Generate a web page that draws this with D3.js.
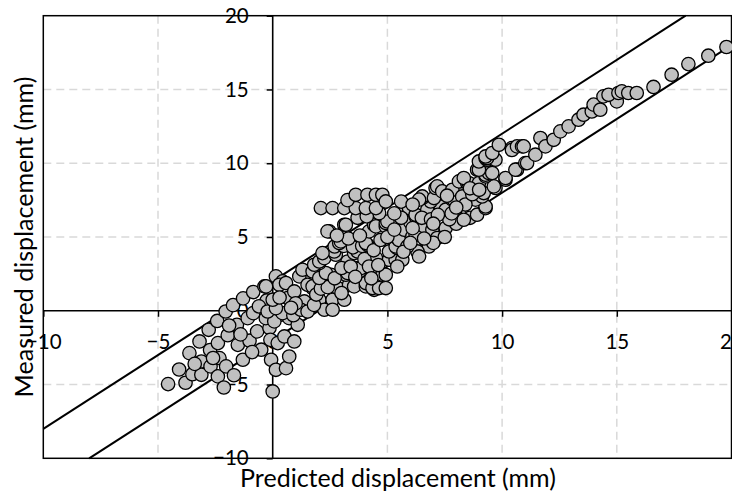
<!DOCTYPE html>
<html>
<head>
<meta charset="utf-8">
<script src="https://cdn.jsdelivr.net/npm/d3@7"></script>
<style>
  html, body { margin: 0; padding: 0; background: #fff; }
  svg { display: block; }
  text { font-family: Lato, "Open Sans", "DejaVu Sans", sans-serif; fill: #000; }
</style>
</head>
<body>
<svg id="chart" width="732" height="494"></svg>
<script>
// ---- data ----
const xTicks = [-10, -5, 0, 5, 10, 15, 20];
const yTicks = [-10, -5, 0, 5, 10, 15, 20];
const xTitle = "Predicted displacement (mm)";
const yTitle = "Measured displacement (mm)";
const bandOffsets = [2, -2];   // lines y = x + b

const tailPoints = [
  [-4.56,-4.97],[-4.08,-3.98],[-3.8,-4.88],[-3.63,-2.87],[-3.5,-4.3],[-3.19,-2.08],[-3.11,-3.44],[-3.11,-4.34],
  [-2.79,-1.29],[-2.73,-2.66],[-2.71,-3.77],[-2.42,-0.69],[-2.39,-2.19],[-2.39,-4.45],[-2.32,-3.21],[-2.13,-5.2],
  [-2.05,-0.05],[-2.03,-3.77],[-1.96,-1.66],[-1.73,0.38],[-1.69,-4.37],[-1.56,-0.95],[-1.52,-2.31],[-1.3,-3.32],
  [-1.29,0.84],[-1.09,-0.5],[-1.01,-2.03],[-0.85,1.27],[-0.85,-0.16],[-0.68,-1.4],[-0.5,-2.64],[-0.36,1.65],
  [-0.26,0.7],[-0.14,-1.17],[-0.1,-1.97],[-0.07,-3.32],[-0.6,0.3],[-0.3,-0.5],[-1.9,-1.0],[-1.4,-1.6],
  [-0.9,-2.8],[-2.6,-3.2],[-3.4,-3.6]
];
const columnPoints = [
  [0,-5.47],[0.14,-4.0],[0.58,-3.89],[0.72,-3.1],[0.22,-2.19],[0.51,-1.74],[0.94,-2.08],[0.36,-0.27],
  [0.07,-0.72],[0.72,-0.5],[1.09,-0.95],[0.43,-0.16],[-0.22,-0.05],[0.14,0.18],[0.9,-0.3]
];
const originPoints = [
  [0.14,2.33],[0.43,1.99],[0.29,1.76],[0.58,1.88],[-0.29,1.65],[0,0.75],[0.65,0.86],[0.94,1.31],[1.38,0.63],
  [1.23,0.07],[1.52,-0.05],[1.74,1.54],[1.52,2.22],[1.16,2.33],[1.3,2.78],[1.74,2.66],[1.52,1.76],[1.74,1.65],
  [2.03,0.75],[2.61,0.75],[3.12,0.75],[2.25,0.07],[2.61,0.07],[2.83,1.54],[3.33,1.76],[3.55,1.65],[4.06,1.65],
  [4.42,1.42],[4.06,1.88],[4.35,1.54],[4.64,1.54],[4.93,1.54],[0.3,0.9],[1.0,0.5],[0.8,0.2],[1.8,0.4],
  [1.9,1.1],[2.1,1.5],[2.4,1.6],[3.0,1.2]
];
const lowBandPoints = [
  [2.03,2.22],[2.54,2.44],[2.32,2.56],[3.19,2.44],[3.26,2.56],[3.77,2.66],[3.62,2.89],[3.84,2.89],[4.78,2.44],
  [4.93,2.44],[2.03,3.23],[1.81,3.12],[2.03,3.34],[2.25,3.57],[3.26,3.34],[4.5,3.57],[5.07,3.46],[5.36,3.46],
  [5.65,3.46],[5.43,3.0],[2.75,3.8],[2.68,4.02],[3.55,3.91],[3.7,4.02],[2.17,3.91],[5.07,4.02],[5.43,4.25],
  [5.36,4.36],[2.7,4.36],[3.1,4.4],[3.5,4.3],[3.9,4.4],[4.13,4.47],[4.06,4.59],[2.9,4.59],[2.97,4.7],[5.29,5.04],
  [4.2,5.38],[2.47,5.38],[2.39,5.38],[3.12,5.83],[3.19,5.83],[4.42,5.83],[4.5,5.72],[4.93,5.72],[4.93,5.95],
  [5.0,6.05],[4.64,6.62],[5.5,4.8],[2.7,2.2],[3.0,2.9],[3.4,3.0],[3.6,2.3],[4.0,3.5],[4.2,3.0],[4.3,2.2],
  [4.6,3.1],[4.4,4.1],[4.7,4.8],[5.0,5.0],[3.3,4.9],[3.8,5.1],[2.8,5.1],[3.7,6.3],[4.1,6.4]
];
const plateauPoints = [
  [2.1,6.96],[2.61,6.96],[3.12,6.96],[3.62,6.96],[4.06,6.96],[4.5,6.96],[3.26,7.5],[3.62,7.86],[4.13,7.86],
  [4.5,7.86],[4.78,7.86],[4.93,7.41]
];
const midBandPoints = [
  [5.65,5.61],[5.73,5.49],[6.09,5.04],[6.23,5.15],[6.67,5.72],[6.6,5.72],[6.96,5.49],[7.54,5.61],[7.17,4.93],
  [6.81,4.36],[6.31,4.02],[5.87,4.36],[6.38,3.68],[7.0,4.6],[7.5,5.0],[8.0,5.9],[8.6,6.3],[7.7,6.2],[6.0,6.0],
  [5.8,6.96],[5.94,6.96],[6.23,6.39],[6.23,6.51],[6.74,6.85],[7.32,7.07],[7.54,6.85],[7.97,6.85],[6.89,7.41],
  [6.52,7.64],[6.52,7.75],[6.38,7.53],[7.03,7.64],[7.83,7.53],[7.9,7.53],[7.1,8.32],[7.17,8.43],[7.39,8.09],
  [7.83,8.2],[8.19,8.77],[8.12,8.77],[8.26,7.75],[8.33,6.17],[8.91,6.51],[9.28,6.96],[9.28,7.07],[8.84,7.53],
  [9.13,7.75],[9.2,7.98],[8.48,8.66],[8.55,8.66],[8.99,8.66],[8.33,9.0],[9.71,8.32],[9.64,8.43],[9.28,9.11],
  [9.28,9.22],[9.42,9.34],[9.57,9.34],[8.91,9.56],[8.99,9.56],[8.99,10.12],[9.35,10.24],[9.71,10.24],[9.28,10.35],
  [9.35,10.35],[9.28,10.46],[9.57,10.69],[6.5,6.3],[6.9,6.2],[7.2,6.5],[5.6,6.3],[6.1,5.6],[7.0,5.9],[7.8,6.6],
  [8.4,7.2],[8.7,7.9],[8.0,7.0],[7.6,7.8],[8.6,8.3],[9.0,8.2],[5.3,5.5],[5.7,4.0],[6.0,4.6],[6.6,4.9],
  [5.3,6.6],[5.6,7.4],[6.1,7.2]
];
const upperPoints = [
  [9.86,11.25],[10.43,11.03],[10.43,10.9],[10.65,11.14],[10.87,11.14],[10.94,11.14],[10.15,8.88],[10.15,9.0],
  [10.65,9.56],[10.58,9.56],[11.01,10.01],[11.09,10.01],[11.45,10.58],[11.67,11.71],[11.89,11.14],[12.25,11.59],
  [12.54,12.16],[12.9,12.5],[13.33,12.95],[13.55,13.29],[13.91,13.51],[13.99,13.97],[14.28,13.63],[15.0,14.19],
  [14.42,14.53],[14.64,14.64],[15.07,14.76],[15.22,14.87],[15.5,14.76],[15.87,14.76],[16.6,15.17],[17.39,16.0],
  [18.12,16.72],[18.99,17.29],[19.78,17.88]
];

// ---- chart ----
const svg = d3.select("#chart");
const x = d3.scaleLinear().domain([-10, 20]).range([43.3, 731.5]);
const y = d3.scaleLinear().domain([-10, 20]).range([458.3, 15.7]);
const [x0, x1] = x.domain(), [y0, y1] = y.domain();

// gridlines
const gx = xTicks.filter(v => v !== 0 && v !== x0 && v !== x1);
const gy = yTicks.filter(v => v !== 0 && v !== y0 && v !== y1);
const grid = svg.append("g").attr("stroke", "#d9d9d9").attr("stroke-width", 1.5).attr("stroke-dasharray", "8,5");
grid.selectAll("line.gx").data(gx).join("line")
  .attr("x1", d => x(d)).attr("x2", d => x(d)).attr("y1", y(y1)).attr("y2", y(y0));
grid.selectAll("line.gy").data(gy).join("line")
  .attr("y1", d => y(d)).attr("y2", d => y(d)).attr("x1", x(x0)).attr("x2", x(x1));

// border
svg.append("rect")
  .attr("x", x(x0)).attr("y", y(y1))
  .attr("width", x(x1) - x(x0)).attr("height", y(y0) - y(y1))
  .attr("fill", "none").attr("stroke", "#000").attr("stroke-width", 1.5);

// axes crossing at zero
const xAxis = svg.append("g").attr("transform", `translate(0,${y(0)})`)
  .call(d3.axisBottom(x).tickValues(xTicks).tickSize(6).tickPadding(18).tickFormat(d3.format("d")));
const yAxis = svg.append("g").attr("transform", `translate(${x(0)},0)`)
  .call(d3.axisLeft(y).tickValues(yTicks).tickSize(6).tickPadding(18).tickFormat(d3.format("d")));
[xAxis, yAxis].forEach(g => {
  g.select(".domain").remove();
  g.selectAll(".tick line").attr("stroke", "#000").attr("stroke-width", 1.5);
  g.selectAll(".tick text").attr("font-size", 20.5).attr("fill", "#000")
    .style("font-family", 'Lato, "Open Sans", sans-serif');
});
svg.append("line").attr("x1", x(x0)).attr("x2", x(x1)).attr("y1", y(0)).attr("y2", y(0))
  .attr("stroke", "#000").attr("stroke-width", 1.6);
svg.append("line").attr("x1", x(0)).attr("x2", x(0)).attr("y1", y(y0)).attr("y2", y(y1))
  .attr("stroke", "#000").attr("stroke-width", 1.6);

// band lines y = x + b, clipped to the domain
svg.append("g").selectAll("line").data(bandOffsets).join("line")
  .attr("x1", b => x(Math.max(x0, y0 - b)))
  .attr("y1", b => y(Math.max(x0, y0 - b) + b))
  .attr("x2", b => x(Math.min(x1, y1 - b)))
  .attr("y2", b => y(Math.min(x1, y1 - b) + b))
  .attr("stroke", "#000").attr("stroke-width", 2);

// points
const allPoints = [].concat(tailPoints, columnPoints, originPoints, lowBandPoints, plateauPoints, midBandPoints, upperPoints);
svg.append("g").selectAll("circle").data(allPoints).join("circle")
  .attr("cx", d => x(d[0])).attr("cy", d => y(d[1])).attr("r", 6.7)
  .attr("fill", "#c0c0c0").attr("stroke", "#000").attr("stroke-width", 1.3);

// titles (fit to reference widths)
function fit(sel, target) {
  const len = sel.node().getComputedTextLength();
  const fs = parseFloat(sel.attr("font-size"));
  sel.attr("font-size", fs * target / len);
}
const xt = svg.append("text").attr("x", 398).attr("y", 487).attr("text-anchor", "middle")
  .attr("font-size", 24).text(xTitle);
fit(xt, 316);
const yt = svg.append("text").attr("transform", "translate(33,237) rotate(-90)").attr("text-anchor", "middle")
  .attr("font-size", 24).text(yTitle);
fit(yt, 321);
</script>
</body>
</html>
